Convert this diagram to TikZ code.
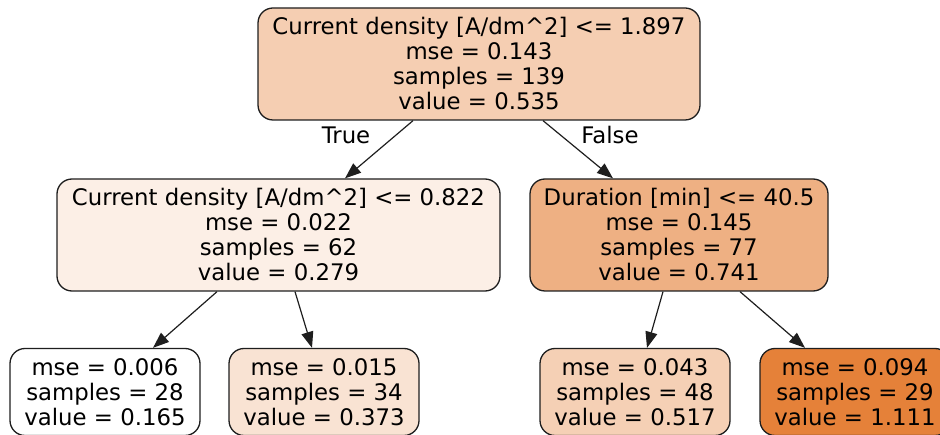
\documentclass[tikz,border=0pt]{standalone}
\usepackage{fontspec}
\setmainfont{DejaVu Sans}
\usetikzlibrary{arrows.meta}

% sklearn-style shades of the regression value
\definecolor{v0535}{RGB}{245,206,178}
\definecolor{v0279}{RGB}{252,239,230}
\definecolor{v0741}{RGB}{238,176,131}
\definecolor{v0165}{RGB}{255,255,255}
\definecolor{v0373}{RGB}{249,227,211}
\definecolor{v0517}{RGB}{245,208,181}
\definecolor{v1111}{RGB}{229,129,57}
\definecolor{edgeline}{RGB}{30,30,30}

\tikzset{
  treenode/.style={draw=edgeline, line width=1.3pt, rounded corners=15pt,
    inner sep=0pt, align=center, font=\fontsize{22.8}{25}\selectfont},
  splitnode/.style={treenode, minimum height=112pt},
  leafnode/.style={treenode, minimum width=190pt, minimum height=87pt},
  branch/.style={draw=edgeline, line width=1.2pt,
    -{Triangle[length=16pt,width=12pt]}},
  branchlabel/.style={font=\fontsize{22.8}{25}\selectfont}
}

\begin{document}
\begin{tikzpicture}[x=1pt, y=-1pt]
\useasboundingbox (0,0) rectangle (940,435);

% split nodes
\node[splitnode, fill=v0535, minimum width=442pt] (root) at (479,64)
  {Current density [A/dm\^{}2] <= 1.897\\ mse = 0.143\\ samples = 139\\ value = 0.535};
\node[splitnode, fill=v0279, minimum width=443pt] (left) at (278.5,235)
  {Current density [A/dm\^{}2] <= 0.822\\ mse = 0.022\\ samples = 62\\ value = 0.279};
\node[splitnode, fill=v0741, minimum width=298pt] (right) at (679,235)
  {Duration [min] <= 40.5\\ mse = 0.145\\ samples = 77\\ value = 0.741};

% leaves
\node[leafnode, fill=v0165] (leafA) at (105,392)
  {mse = 0.006\\ samples = 28\\ value = 0.165};
\node[leafnode, fill=v0373] (leafB) at (324,392)
  {mse = 0.015\\ samples = 34\\ value = 0.373};
\node[leafnode, fill=v0517] (leafC) at (635,392)
  {mse = 0.043\\ samples = 48\\ value = 0.517};
\node[leafnode, fill=v1111] (leafD) at (855,392)
  {mse = 0.094\\ samples = 29\\ value = 1.111};

% branches
\draw[branch] ([xshift=-66pt]root.south) -- ([xshift=66.5pt]left.north);
\draw[branch] ([xshift=64pt]root.south) -- ([xshift=-66pt]right.north);
\draw[branch] ([xshift=-61.5pt]left.south) -- ([xshift=48pt]leafA.north);
\draw[branch] ([xshift=16.5pt]left.south) -- ([xshift=-12pt]leafB.north);
\draw[branch] ([xshift=-16pt]right.south) -- ([xshift=12pt]leafC.north);
\draw[branch] ([xshift=61pt]right.south) -- ([xshift=-50pt]leafD.north);

% branch labels
\node[branchlabel] (truelab) at (346,135) {True};
\node[branchlabel] (falselab) at (610,135) {False};
\end{tikzpicture}
\end{document}
